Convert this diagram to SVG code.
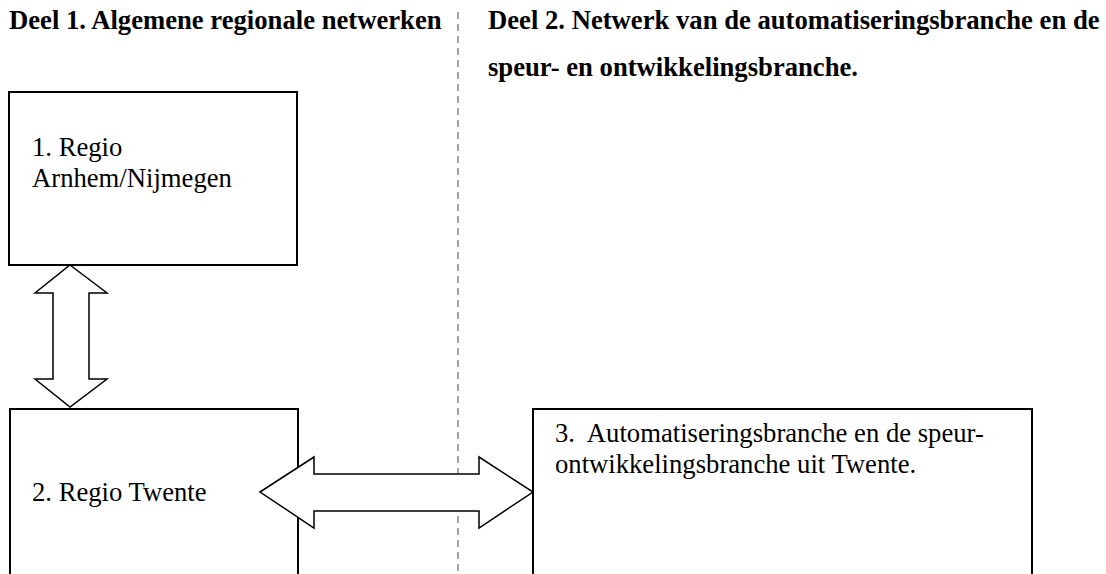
<svg xmlns="http://www.w3.org/2000/svg" width="1106" height="574" viewBox="0 0 1106 574">
<style>
.box{fill:#fff;stroke:#000;stroke-width:2}
.arrow{fill:#fff;stroke:#000;stroke-width:1.5;stroke-linejoin:miter}
.hdr{font-family:"Liberation Serif",serif;font-weight:bold;font-size:26.67px;fill:#000}
.txt{font-family:"Liberation Serif",serif;font-size:26.67px;fill:#000;white-space:pre}
.sep{stroke:#888;stroke-width:1.5;stroke-dasharray:7,5;fill:none}
</style>
<rect width="1106" height="574" fill="#fff"/>
<line class="sep" x1="458" y1="12" x2="458" y2="574"/>
<text class="hdr" x="9" y="29">Deel 1. Algemene regionale netwerken</text>
<text class="hdr" x="488" y="29">Deel 2. Netwerk van de automatiseringsbranche en de</text>
<text class="hdr" x="488" y="76">speur- en ontwikkelingsbranche.</text>
<g id="node1">
<rect class="box" x="9" y="92" width="288" height="173"/>
<text class="txt" x="32" y="156">1. Regio</text>
<text class="txt" x="32" y="187">Arnhem/Nijmegen</text>
</g>
<g id="node2">
<rect class="box" x="10" y="409" width="288" height="180"/>
<text class="txt" x="32" y="501">2. Regio Twente</text>
</g>
<g id="node3">
<rect class="box" x="533" y="409" width="499" height="180"/>
<text class="txt" x="555" y="442" xml:space="preserve">3.  Automatiseringsbranche en de speur-</text>
<text class="txt" x="555" y="473">ontwikkelingsbranche uit Twente.</text>
</g>
<g id="connectors">
<polygon class="arrow" points="70,265 107,293 89,293 89,379 107,379 70,407 35,379 53,379 53,293 35,293"/>
<polygon class="arrow" points="260,492 314,457 314,474 479,474 479,457 533,492 479,528 479,511 314,511 314,528"/>
</g>
</svg>
